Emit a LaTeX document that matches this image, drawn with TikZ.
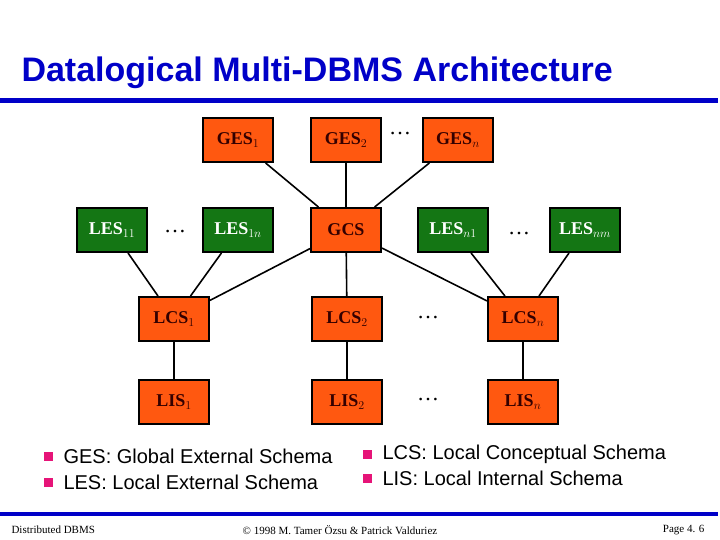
\documentclass[tikz,border=0pt]{standalone}
\usepackage{fontspec}
\setmainfont{Liberation Serif}
\newfontfamily\arialfont{Liberation Sans}
\usepackage{xcolor}
\definecolor{boxorange}{RGB}{255,88,16}
\definecolor{boxgreen}{RGB}{20,118,20}
\definecolor{titleblue}{RGB}{0,0,200}
\definecolor{bulletpink}{RGB}{230,20,120}

\begin{document}
\begin{tikzpicture}[x=1pt, y=-1pt, every node/.style={font=\bfseries\fontsize{18}{20}\selectfont},
                        schema/.style={draw, line width=2pt, fill=boxorange, text=black!80!red,
                                        minimum width=70pt, minimum height=44pt, inner sep=0pt},
                        external/.style={schema, fill=boxgreen, text=white},
                        dots/.style={font=\fontsize{22}{22}\selectfont},
                        link/.style={line width=1.6pt}
                    ]
        \useasboundingbox (0,0) rectangle (720,540);

        % title
        \node[anchor=base west, text=titleblue, font=\arialfont\bfseries\fontsize{34}{36}\selectfont] (title) at (18,82) {Datalogical Multi-DBMS Architecture};
        \fill[titleblue] (0,98) rectangle (718,103);

        % global level
        \node[schema] (ges1) at (238,140) {GES$_1$};
        \node[schema] (ges2) at (346,140) {GES$_2$};
        \node[dots] (gdots) at (400,134) {\dots};
        \node[schema] (gesn) at (458,140) {GES$_n$};

        % external and conceptual
        \node[external] (les11) at (112,230) {LES$_{11}$};
        \node[dots] (ldots1) at (175,232) {\dots};
        \node[external] (les1n) at (238,230) {LES$_{1n}$};
        \node[schema] (gcs) at (346,230) {GCS};
        \node[external] (lesn1) at (453,230) {LES$_{n1}$};
        \node[dots] (ldots2) at (519,234) {\dots};
        \node[external] (lesnm) at (585,230) {LES$_{nm}$};

        \node[schema] (lcs1) at (174,319) {LCS$_1$};
        \node[schema] (lcs2) at (347,319) {LCS$_2$};
        \node[dots] (cdots) at (428,318) {\dots};
        \node[schema] (lcsn) at (523,319) {LCS$_n$};

        \node[schema] (lis1) at (174,402) {LIS$_1$};
        \node[schema] (lis2) at (347,402) {LIS$_2$};
        \node[dots] (idots) at (428,400) {\dots};
        \node[schema] (lisn) at (523,402) {LIS$_n$};

        % connectors
        \foreach \g in {ges1, ges2, gesn} \draw[link] (\g) -- (gcs);
        \foreach \c in {lcs1, lcs2, lcsn} \draw[link] (gcs) -- (\c);
        \draw[link] (les11) -- (lcs1);
        \draw[link] (les1n) -- (lcs1);
        \draw[link] (lesn1) -- (lcsn);
        \draw[link] (lesnm) -- (lcsn);
        \draw[link] (lcs1) -- (lis1);
        \draw[link] (lcs2) -- (lis2);
        \draw[link] (lcsn) -- (lisn);

        % legend
        \tikzset{legend/.style={anchor=west, font=\arialfont\fontsize{20}{22}\selectfont}}
        \fill[bulletpink] (44,452) rectangle (53,461);
        \node[legend] (lges) at (60,456) {GES: Global External Schema};
        \fill[bulletpink] (44,478) rectangle (53,487);
        \node[legend] (lles) at (60,482) {LES: Local External Schema};
        \fill[bulletpink] (363,450) rectangle (372,459);
        \node[legend] (llcs) at (379,454) {LCS: Local Conceptual Schema};
        \fill[bulletpink] (363,474) rectangle (372,483);
        \node[legend] (llis) at (379,478) {LIS: Local Internal Schema};

        % footer
        \fill[titleblue] (0,512) rectangle (718,516);
        \tikzset{foot/.style={font=\fontsize{11}{12}\selectfont}}
        \node[foot, anchor=west] (fleft) at (8,530) {Distributed DBMS};
        \node[foot] (fmid) at (340,530) {\textcopyright{} 1998 M. Tamer Özsu \& Patrick Valduriez};
        \node[foot, anchor=east] (fright) at (708,530) {Page 4. 6};
\end{tikzpicture}
\end{document}
